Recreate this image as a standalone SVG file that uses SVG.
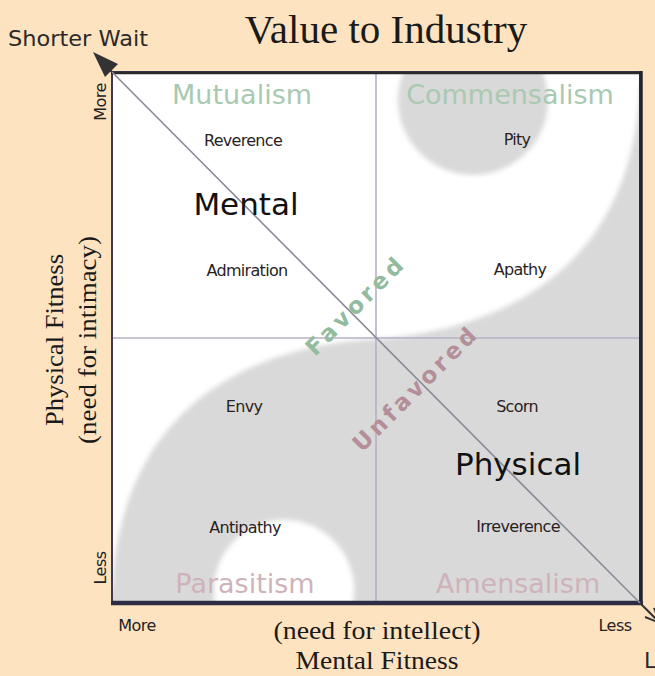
<svg xmlns="http://www.w3.org/2000/svg" width="655" height="676" viewBox="0 0 655 676">
<defs>
<clipPath id="box"><rect x="112" y="72" width="528" height="531"/></clipPath>
<filter id="soft" x="-10%" y="-10%" width="120%" height="120%"><feGaussianBlur stdDeviation="2.5"/></filter>
<style>
.sans{font-family:"DejaVu Sans","Noto Sans",sans-serif}
.serif{font-family:"Liberation Serif","DejaVu Serif",serif;fill:#1a1a1a}
.lbl{font-family:"DejaVu Sans","Noto Sans",sans-serif;font-size:16px;fill:#2a1e1e;text-anchor:middle;letter-spacing:-0.7px}
.big{font-family:"DejaVu Sans","Noto Sans",sans-serif;font-size:31px;fill:#111;text-anchor:middle}
.good{font-family:"DejaVu Sans","Noto Sans",sans-serif;font-size:27px;fill:#a9c9b1;text-anchor:middle}
.bad{font-family:"DejaVu Sans","Noto Sans",sans-serif;font-size:27px;fill:#cfb3ba;text-anchor:middle}
.axis{font-family:"DejaVu Sans","Noto Sans",sans-serif;font-size:16px;fill:#222;text-anchor:middle;letter-spacing:-0.5px}
.diag{font-family:"DejaVu Sans","Noto Sans",sans-serif;font-size:23px;font-weight:bold;text-anchor:middle}
.grid{stroke:#b4b0c4;stroke-width:1.6;fill:none}
</style>
</defs>
<rect width="655" height="676" fill="#fee3c0"/>
<g id="field" clip-path="url(#box)">
<rect x="112" y="72" width="528" height="531" fill="#ffffff"/>
<g filter="url(#soft)">
<path d="M100,615 L100,592 L112,592 C120,400 260,345 376,339 C492,331 632,276 640,86 L655,60 L655,615 Z" fill="#d9d9d9"/>
<circle cx="473" cy="100" r="75" fill="#d9d9d9"/>
<circle cx="284" cy="590" r="70" fill="#ffffff"/>
</g>
</g>
<g id="grid">
<line class="grid" x1="376" y1="72" x2="376" y2="603"/>
<line class="grid" x1="112" y1="338" x2="640" y2="338"/>
</g>
<g id="frame">
<rect x="112" y="72" width="528" height="531" fill="none" stroke="#3a3a55" stroke-width="2"/>
<line x1="111" y1="73" x2="641" y2="73" stroke="#2a2a2a" stroke-width="2.5"/>
<line x1="641" y1="71" x2="641" y2="605" stroke="#23232e" stroke-width="3.5"/>
<line x1="111" y1="603" x2="643" y2="603" stroke="#2c2c45" stroke-width="4.5"/>
</g>
<g id="connectors">
<line x1="112" y1="72" x2="640" y2="603" stroke="#8a8a96" stroke-width="1.6"/>
<line x1="112" y1="72" x2="104" y2="64" stroke="#333" stroke-width="2"/>
<polygon points="93,52 118,64 105,77" fill="#333"/>
<line x1="640" y1="603" x2="660" y2="623" stroke="#333" stroke-width="2"/>
<polyline points="645,617 660,623 654,608" fill="none" stroke="#333" stroke-width="2"/>
</g>
<g id="title"><text class="serif" x="386" y="43" font-size="41" text-anchor="middle">Value to Industry</text></g>
<g id="shorter-wait"><text class="sans" x="8" y="46" font-size="22" fill="#2a2a2a" textLength="140" lengthAdjust="spacingAndGlyphs">Shorter Wait</text></g>
<g id="longer-wait"><text class="sans" x="644" y="668" font-size="22" fill="#2a2a2a">L</text></g>
<g id="mutualism"><text class="good" x="242" y="104">Mutualism</text></g>
<g id="commensalism"><text class="good" x="510" y="104">Commensalism</text></g>
<g id="parasitism"><text class="bad" x="245" y="593">Parasitism</text></g>
<g id="amensalism"><text class="bad" x="518" y="593">Amensalism</text></g>
<g id="reverence"><text class="lbl" x="243" y="146">Reverence</text></g>
<g id="pity"><text class="lbl" x="517" y="145">Pity</text></g>
<g id="mental"><text class="big" x="246" y="215">Mental</text></g>
<g id="admiration"><text class="lbl" x="247" y="276">Admiration</text></g>
<g id="apathy"><text class="lbl" x="520" y="275">Apathy</text></g>
<g id="envy"><text class="lbl" x="244" y="412">Envy</text></g>
<g id="scorn"><text class="lbl" x="517" y="412">Scorn</text></g>
<g id="physical"><text class="big" x="518" y="475">Physical</text></g>
<g id="antipathy"><text class="lbl" x="245" y="533">Antipathy</text></g>
<g id="irreverence"><text class="lbl" x="518" y="532">Irreverence</text></g>
<g id="favored"><text class="diag" transform="translate(360,312) rotate(-45)" fill="#93bb9e" textLength="127">Favored</text></g>
<g id="unfavored"><text class="diag" transform="translate(420,395) rotate(-45)" fill="#b48e98" textLength="164">Unfavored</text></g>
<g id="y-axis">
<text class="axis" transform="translate(106,102) rotate(-90)">More</text>
<text class="axis" transform="translate(106,568) rotate(-90)">Less</text>
<text class="serif" transform="translate(63,340) rotate(-90)" font-size="25" text-anchor="middle" textLength="172" lengthAdjust="spacingAndGlyphs" fill="#3a3028">Physical Fitness</text>
<text class="serif" transform="translate(96,340) rotate(-90)" font-size="25" text-anchor="middle" textLength="208" lengthAdjust="spacingAndGlyphs" fill="#3a3028">(need for intimacy)</text>
</g>
<g id="x-axis">
<text class="axis" x="137" y="631">More</text>
<text class="axis" x="615" y="631">Less</text>
<text class="serif" x="377" y="639" font-size="25" text-anchor="middle" textLength="207" lengthAdjust="spacingAndGlyphs" fill="#3a3028">(need for intellect)</text>
<text class="serif" x="377" y="669" font-size="25" text-anchor="middle" textLength="163" lengthAdjust="spacingAndGlyphs" fill="#3a3028">Mental Fitness</text>
</g>
</svg>
